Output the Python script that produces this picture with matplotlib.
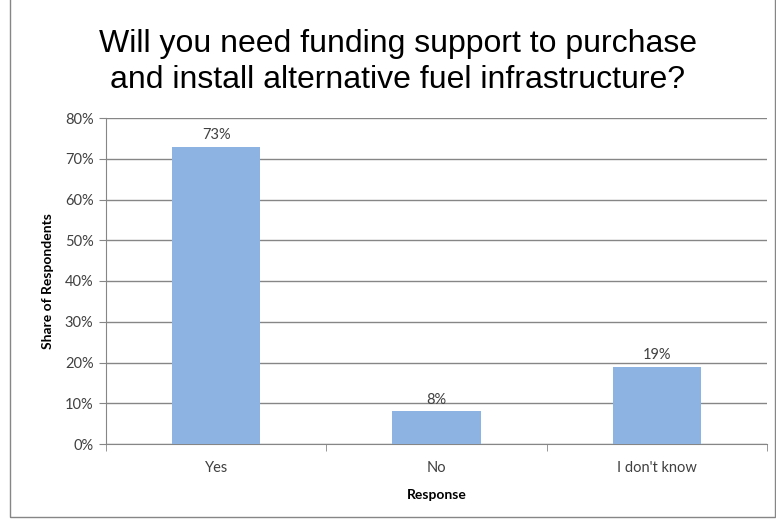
import matplotlib.pyplot as plt
from matplotlib.patches import Rectangle

# Survey data
categories = ["Yes", "No", "I don't know"]
shares = [73, 8, 19]
y_ticks = [0, 10, 20, 30, 40, 50, 60, 70, 80]

fig = plt.figure(figsize=(7.76, 5.23), dpi=100)
ax = fig.add_axes([106 / 776, 1 - 444 / 523, (767 - 106) / 776, (444 - 118) / 523])

x = range(len(categories))
ax.bar(x, shares, width=0.4, color="#8DB3E2", zorder=3)
for xi, v in zip(x, shares):
    ax.text(xi, v + 1.2, f"{v}%", ha="center", va="bottom",
            fontsize=10.5, color="#404040", family="Lato")

ax.set_xlim(-0.5, len(categories) - 0.5)
ax.set_ylim(0, 80)
ax.set_yticks(y_ticks)
ax.set_yticklabels([f"{t}%" for t in y_ticks], fontsize=10.5, color="#404040", family="Lato")
ax.yaxis.grid(True, color="#868686", linewidth=1, zorder=0)

ax.set_xticks(list(x))
ax.set_xticklabels(categories, fontsize=10.5, color="#404040", family="Lato")
ax.tick_params(axis="x", length=0, pad=12)
ax.set_xticks([-0.5, 0.5, 1.5, 2.5], minor=True)
ax.tick_params(axis="x", which="minor", length=5, color="#868686", direction="out")
ax.tick_params(axis="y", length=5, color="#868686", direction="out", pad=4)

for s in ["top", "right"]:
    ax.spines[s].set_visible(False)
for s in ["left", "bottom"]:
    ax.spines[s].set_color("#868686")

ax.set_ylabel("Share of Respondents", fontsize=10, fontweight="bold", family="Lato", labelpad=8)
ax.set_xlabel("Response", fontsize=10, fontweight="bold", family="Lato", labelpad=10)

fig.text(398 / 776, 1 - 62 / 523,
         "Will you need funding support to purchase\nand install alternative fuel infrastructure?",
         ha="center", va="center", fontsize=23, family="Liberation Sans",
         linespacing=1.22, color="black")

# chart frame
fig.patches.append(Rectangle((10 / 776, 6 / 523), 765 / 776, 520 / 523,
                             transform=fig.transFigure, fill=False,
                             edgecolor="#868686", linewidth=1))

fig.savefig("out.png", dpi=100)
